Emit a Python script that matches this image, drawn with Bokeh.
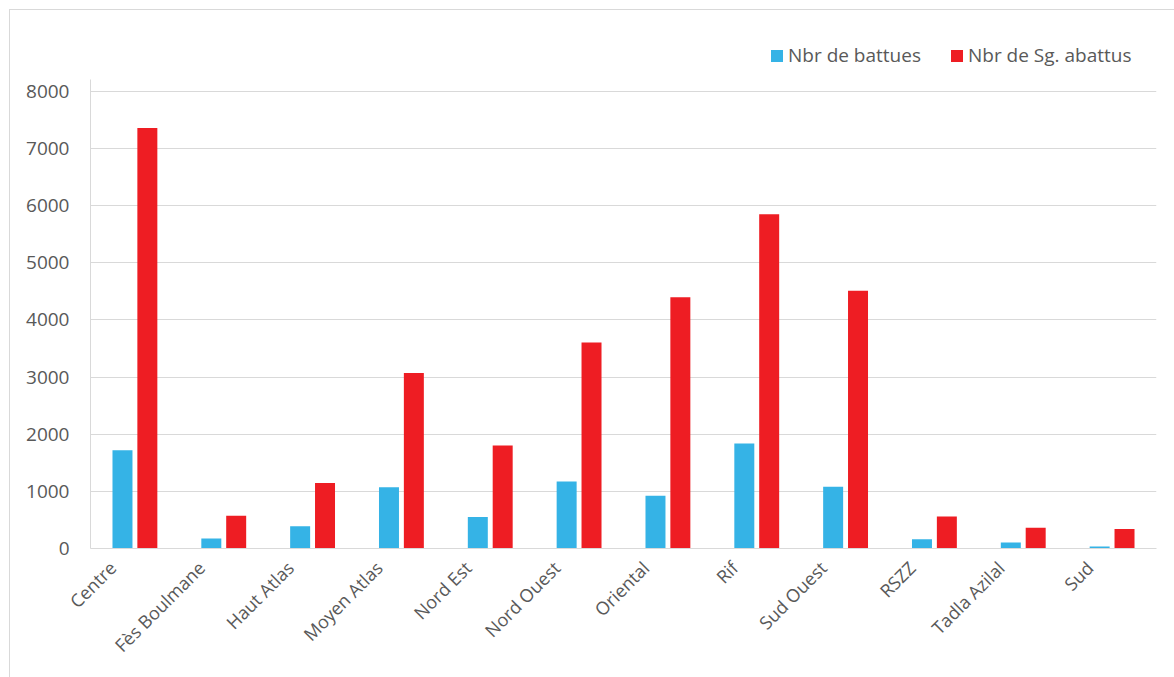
import math
from bokeh.plotting import figure
from bokeh.models import (ColumnDataSource, Range1d, FixedTicker, Legend, LegendItem,
                          LinearAxis, LinearScale)
from bokeh.transform import dodge
from bokeh.embed import file_html
from bokeh.resources import INLINE

categories = ["Centre", "Fès Boulmane", "Haut Atlas", "Moyen Atlas", "Nord Est", "Nord Ouest",
              "Oriental", "Rif", "Sud Ouest", "RSZZ", "Tadla Azilal", "Sud"]
battues = [1720, 175, 390, 1070, 550, 1175, 925, 1840, 1080, 160, 105, 35]
abattus = [7360, 575, 1145, 3070, 1805, 3605, 4400, 5850, 4510, 560, 365, 340]
y_ticks = [0, 1000, 2000, 3000, 4000, 5000, 6000, 7000, 8000]

series_names = ["Nbr de battues", "Nbr de Sg. abattus"]
colors = ["#35B3E6", "#EE1D23"]

n = len(categories)
src = ColumnDataSource(dict(idx=list(range(n)), cat=categories, battues=battues, abattus=abattus))

FONT = "Open Sans"
GRID = "#d9d9d9"
TXT = "#595959"

# the frame reaches above the top gridline so that the legend can sit inside it
p = figure(x_range=Range1d(-0.5, n - 0.5), y_range=Range1d(0, 9050),
           width=1165, height=668, output_backend="svg", toolbar_location=None,
           min_border_left=80, min_border_right=19, min_border_top=21, min_border_bottom=130,
           x_axis_location=None)
p.margin = (9, 0, 0, 9)
p.styles = {"border-left": "1px solid #d9d9d9", "border-top": "1px solid #d9d9d9"}
p.outline_line_color = None

r1 = p.vbar(x=dodge("idx", -0.14), top="battues", width=0.225,
            source=src, fill_color=colors[0], line_color=None)
r2 = p.vbar(x=dodge("idx", 0.14), top="abattus", width=0.225,
            source=src, fill_color=colors[1], line_color=None)

p.xgrid.grid_line_color = None
p.ygrid.grid_line_color = GRID
p.ygrid.grid_line_width = 1

p.yaxis.ticker = FixedTicker(ticks=y_ticks)
p.yaxis.bounds = (0, 8210)
p.yaxis.axis_line_color = GRID
p.yaxis.major_tick_line_color = GRID
p.yaxis.major_tick_out = 0
p.yaxis.major_tick_in = 0
p.yaxis.minor_tick_line_color = None
p.yaxis.major_label_standoff = 21
p.yaxis.major_label_text_font = FONT
p.yaxis.major_label_text_font_size = "19px"
p.yaxis.major_label_text_color = TXT

# label axis: same category positions, slightly shifted so that the rotated labels
# end just left of each group's centre, as in the reference
shift = 0.25
p.extra_x_ranges["lab"] = Range1d(-0.5 + shift, n - 0.5 + shift)
p.extra_x_scales["lab"] = LinearScale()
xax = LinearAxis(x_range_name="lab", ticker=FixedTicker(ticks=list(range(n))),
                 major_label_overrides={i: c for i, c in enumerate(categories)})
xax.axis_line_color = GRID
xax.major_tick_line_color = None
xax.minor_tick_line_color = None
xax.major_label_orientation = math.pi / 4
xax.major_label_standoff = 10
xax.major_label_text_font = FONT
xax.major_label_text_font_size = "18px"
xax.major_label_text_color = TXT
p.add_layout(xax, "below")

legend = Legend(items=[LegendItem(label=series_names[0], renderers=[r1]),
                       LegendItem(label=series_names[1], renderers=[r2])],
                orientation="horizontal", location=(679, 480),
                glyph_width=15, glyph_height=15, label_standoff=4, spacing=28,
                padding=4, label_height=15,
                label_text_font=FONT, label_text_font_size="19px", label_text_color=TXT,
                border_line_color=None, background_fill_alpha=0)
p.add_layout(legend)

open("out.html", "w").write(file_html(p, INLINE))
